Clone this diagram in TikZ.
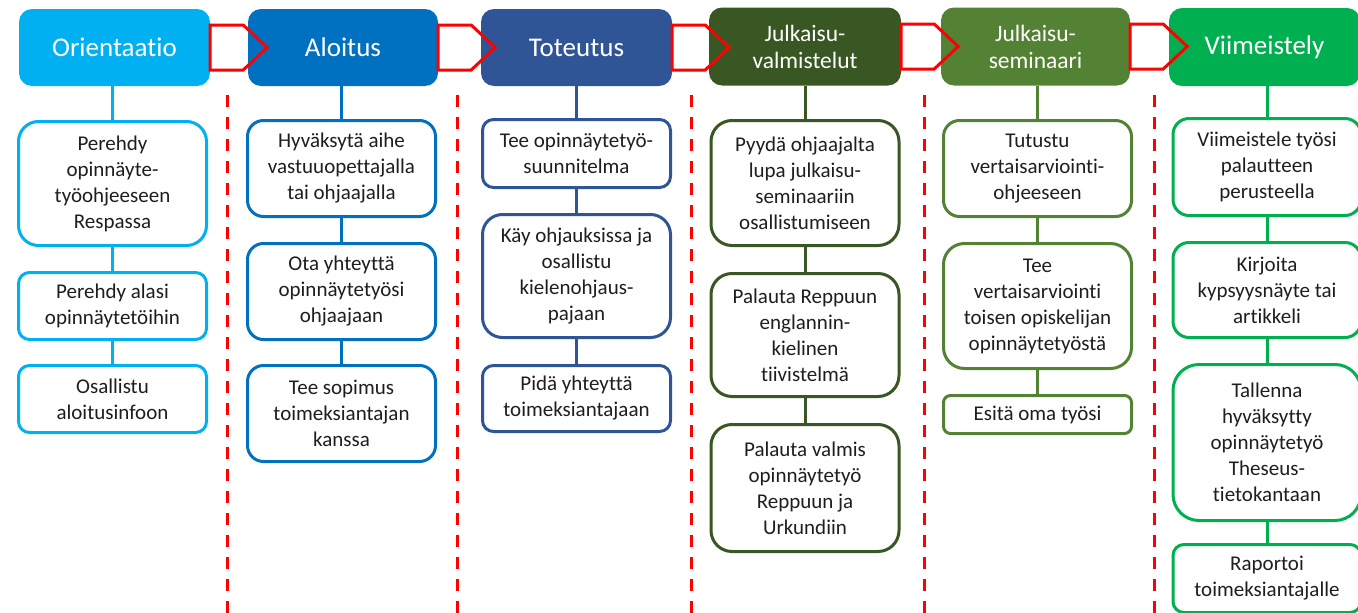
\documentclass[tikz,border=0pt]{standalone}
\usepackage{fontspec}
\setmainfont{Carlito}[Ligatures={NoCommon,NoContextual}]
\usetikzlibrary{calc}
\definecolor{cA}{HTML}{00B0F0}
\definecolor{cB}{HTML}{0070C0}
\definecolor{cC}{HTML}{2F5597}
\definecolor{cD}{HTML}{385723}
\definecolor{cE}{HTML}{548235}
\definecolor{cF}{HTML}{00B050}
\definecolor{txt}{HTML}{1E1E1E}
\definecolor{redd}{HTML}{FF0000}
\tikzset{
  head/.style={fill=#1, draw=none, text=white, align=center, inner sep=0pt,
    minimum height=77pt, rounded corners=13pt, font=\fontsize{27}{31}\selectfont},
  head2/.style={head=#1, font=\fontsize{23.5}{27}\selectfont},
  sub/.style={draw=#1, line width=3pt, fill=white, text=txt, align=center, inner sep=0pt,
    minimum width=188pt, font=\fontsize{21}{26}\selectfont},
  conn/.style={draw=#1, line width=3pt},
  arrowbox/.style={draw=redd, line width=3pt, line join=miter},
  sep/.style={draw=redd, line width=3pt, dash pattern=on 12pt off 10pt},
}
\begin{document}
\begin{tikzpicture}[x=1pt,y=-1pt]
\useasboundingbox (0,0) rectangle (1358,613);
\begin{scope}
\clip (0,0) rectangle (1358,613);
% separators
\foreach \i/\x in {1/227,2/457,3/691,4/924,5/1154}{
  \coordinate (st\i) at (\x,95);
  \coordinate (en\i) at (\x,613);
  \draw[sep] (st\i) -- (en\i);
}
% headers
\node[head=cA, minimum width=191pt] (h1) at (114.5,47.5) {Orientaatio};
\node[head=cB, minimum width=190pt] (h2) at (343,47.5) {Aloitus};
\node[head=cC, minimum width=191pt] (h3) at (576.5,47.5) {Toteutus};
\node[head2=cD, minimum width=192pt, minimum height=78pt] (h4) at (805,46.5) {Julkaisu-\\valmistelut};
\node[head2=cE, minimum width=189pt, minimum height=78pt] (h5) at (1035.5,46.5) {Julkaisu-\\seminaari};
\node[head=cF, minimum width=191pt, minimum height=78pt] (h6) at (1264.5,47) {Viimeistely};
% arrows
\foreach \h in {h1,h2,h3,h4,h5}{
  \draw[arrowbox] ($(\h.east)+(0,-22.5)$) -- ++(33,0) -- ++(24,22.5) -- ++(-24,22.5) -- ++(-33,0) -- cycle;
}
% column 1
\node[sub=cA, minimum height=124pt, rounded corners=20pt] (a1) at (112.5,183.5) {Perehdy\\opinnäyte-\\työohjeeseen\\Respassa};
\node[sub=cA, minimum height=67pt, rounded corners=11pt] (a2) at (112.5,306) {Perehdy alasi\\opinnäytetöihin};
\node[sub=cA, minimum height=67pt, rounded corners=11pt] (a3) at (112.5,399) {Osallistu\\aloitusinfoon};
\draw[conn=cA] (a1.north) -- (a1.north |- h1.south);
\draw[conn=cA] (a1) -- (a2);
\draw[conn=cA] (a2) -- (a3);
% column 2
\node[sub=cB, minimum height=96pt, rounded corners=16pt] (b1) at (341.5,168.5) {Hyväksytä aihe\\vastuuopettajalla\\tai ohjaajalla};
\node[sub=cB, minimum height=96pt, rounded corners=16pt] (b2) at (341.5,291.5) {Ota yhteyttä\\opinnäytetyösi\\ohjaajaan};
\node[sub=cB, minimum height=96pt, rounded corners=16pt] (b3) at (341.5,413.5) {Tee sopimus\\toimeksiantajan\\kanssa};
\draw[conn=cB] (b1.north) -- (b1.north |- h2.south);
\draw[conn=cB] (b1) -- (b2);
\draw[conn=cB] (b2) -- (b3);
% column 3
\node[sub=cC, minimum height=68pt, rounded corners=11pt] (c1) at (576.5,153.5) {Tee opinnäytetyö-\\suunnitelma};
\node[sub=cC, minimum height=123pt, rounded corners=20pt] (c2) at (576.5,276) {Käy ohjauksissa ja\\osallistu\\kielenohjaus-\\pajaan};
\node[sub=cC, minimum height=66pt, rounded corners=11pt] (c3) at (576.5,398.5) {Pidä yhteyttä\\toimeksiantajaan};
\draw[conn=cC] (c1.north) -- (c1.north |- h3.south);
\draw[conn=cC] (c1) -- (c2);
\draw[conn=cC] (c2) -- (c3);
% column 4
\node[sub=cD, minimum height=125pt, rounded corners=21pt] (d1) at (805,183) {Pyydä ohjaajalta\\lupa julkaisu-\\seminaariin\\osallistumiseen};
\node[sub=cD, minimum height=123pt, rounded corners=21pt] (d2) at (805,335) {Palauta Reppuun\\englannin-\\kielinen\\tiivistelmä};
\node[sub=cD, minimum height=127pt, rounded corners=21pt] (d3) at (805,488) {Palauta valmis\\opinnäytetyö\\Reppuun ja\\Urkundiin};
\draw[conn=cD] (d1.north) -- (d1.north |- h4.south);
\draw[conn=cD] (d1) -- (d2);
\draw[conn=cD] (d2) -- (d3);
% column 5
\node[sub=cE, minimum height=96pt, rounded corners=16pt] (e1) at (1037.5,168.5) {Tutustu\\vertaisarviointi-\\ohjeeseen};
\node[sub=cE, minimum height=125pt, rounded corners=21pt] (e2) at (1037.5,306) {Tee\\vertaisarviointi\\toisen opiskelijan\\opinnäytetyöstä};
\node[sub=cE, minimum height=38pt, rounded corners=7pt] (e3) at (1037.5,414.5) {Esitä oma työsi};
\draw[conn=cE] (e1.north) -- (e1.north |- h5.south);
\draw[conn=cE] (e1) -- (e2);
\draw[conn=cE] (e2) -- (e3);
% column 6
\node[sub=cF, minimum height=97pt, rounded corners=16pt] (f1) at (1267,167) {Viimeistele työsi\\palautteen\\perusteella};
\node[sub=cF, minimum height=95pt, rounded corners=16pt] (f2) at (1267,290) {Kirjoita\\kypsyysnäyte tai\\artikkeli};
\node[sub=cF, minimum height=156pt, rounded corners=26pt] (f3) at (1267,442.5) {Tallenna\\hyväksytty\\opinnäytetyö\\Theseus-\\tietokantaan};
\node[sub=cF, minimum height=68pt, rounded corners=11pt] (f4) at (1267,578.5) {Raportoi\\toimeksiantajalle};
\draw[conn=cF] (f1.north) -- (f1.north |- h6.south);
\draw[conn=cF] (f1) -- (f2);
\draw[conn=cF] (f2) -- (f3);
\draw[conn=cF] (f3) -- (f4);
\end{scope}
\end{tikzpicture}
\end{document}
